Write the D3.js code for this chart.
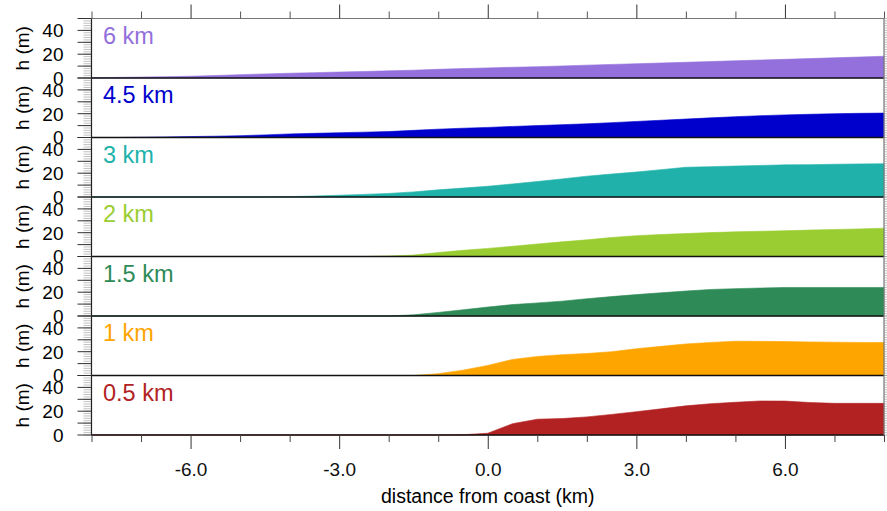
<!DOCTYPE html>
<html>
<head>
<meta charset="utf-8">
<script src="https://cdn.jsdelivr.net/npm/d3@7"></script>
<style>
  body { margin: 0; background: #fff; }
  text { font-family: "Liberation Sans", Arial, Helvetica, sans-serif; }
</style>
</head>
<body>
<div id="viz"></div>
<script>
// distance from coast (km), common grid for all runs
var distance = [-8, -7.5, -7, -6.5, -6, -5.5, -5, -4.5, -4, -3.5, -3, -2.5, -2, -1.5, -1, -0.5,
  0, 0.5, 1, 1.5, 2, 2.5, 3, 3.5, 4, 4.5, 5, 5.5, 6, 6.5, 7, 7.5, 8];

// boundary layer height h (m) for each run
var h6km = [0.3, 0.5, 0.8, 1.1, 1.5, 2.1, 2.8, 3.4, 4, 4.5, 5, 5.5, 6, 6.6, 7.3, 7.9,
  8.5, 9, 9.5, 10.1, 10.8, 11.4, 12, 12.6, 13.2, 13.8, 14.5, 15.1, 15.7, 16.3, 17, 17.6, 18.3];
var h45km = [0, 0, 0.2, 0.5, 0.8, 1.1, 1.5, 2.2, 3, 3.5, 4, 4.5, 5, 6, 7, 7.8,
  8.5, 9.3, 10, 10.8, 11.5, 12.5, 13.5, 14.5, 15.5, 16.5, 17.5, 18.3, 19, 19.5, 20, 20.3, 20.5];
var h3km = [0, 0, 0, 0, 0, 0, 0, 0, 0.3, 0.8, 1.5, 2.2, 3, 4.3, 6, 7.5,
  9, 11, 13, 15.2, 17.5, 19.3, 21, 23, 25, 25.5, 26, 26.5, 27, 27.2, 27.5, 27.8, 28];
var h2km = [0, 0, 0, 0, 0, 0, 0, 0, 0, 0, 0, 0, 0.5, 1.2, 3.3, 5.2,
  6.8, 8.6, 10.5, 12.3, 14, 16, 17.5, 18.5, 19.3, 20.1, 20.7, 21.2, 21.7, 22.2, 22.7, 23.2, 23.8];
var h15km = [0, 0, 0, 0, 0, 0, 0, 0, 0, 0, 0, 0, 0, 1, 3, 5.2,
  7.5, 9.6, 11, 12.5, 14.5, 16.3, 18, 19.5, 21, 22.3, 23, 23.5, 24, 24, 24, 24, 24];
var h1km = [0, 0, 0, 0, 0, 0, 0, 0, 0, 0, 0, 0, 0, 0, 1.5, 4.5,
  8.5, 13.5, 16, 17.5, 18.5, 20, 22.5, 24.5, 26.5, 27.8, 28.8, 28.7, 28.5, 28.2, 28, 27.8, 27.7];
var h05km = [0, 0, 0, 0, 0, 0, 0, 0, 0, 0, 0, 0, 0, 0, 0, 0.2,
  1.5, 9.5, 13.3, 13.8, 15.2, 17.3, 19.6, 22, 24.5, 26.3, 27.5, 28.6, 28.5, 27.3, 26.6, 26.6, 26.6];

var runLabels = ["6 km", "4.5 km", "3 km", "2 km", "1.5 km", "1 km", "0.5 km"];
var runColors = ["#9370DB", "#0000CD", "#20B2AA", "#9ACD32", "#2E8B57", "#FFA500", "#B22222"];
var runValues = [h6km, h45km, h3km, h2km, h15km, h1km, h05km];

var xTickLabels = ["-6.0", "-3.0", "0.0", "3.0", "6.0"];
var yTickLabels = ["0", "20", "40"];

// layout
var width = 887, height = 511;
var plotL = 91.5, plotR = 884, plotT = 18.5, plotB = 435;
var panelH = (plotB - plotT) / runLabels.length;

var svg = d3.select("#viz")
  .append("svg")
    .attr("width", width)
    .attr("height", height);

var x = d3.scaleLinear().domain([-8, 8]).range([plotL, plotR]);

runLabels.forEach(function(label, i) {
  var y0 = plotT + i * panelH;
  var y = d3.scaleLinear().domain([0, 50]).range([y0 + panelH, y0]);
  var g = svg.append("g");

  var area = d3.area()
    .x(function(d, j) { return x(distance[j]); })
    .y0(y(0))
    .y1(function(d) { return y(d); });

  g.append("path")
    .datum(runValues[i])
    .attr("d", area)
    .attr("fill", runColors[i])
    .attr("stroke", runColors[i])
    .attr("stroke-width", 0.6);

  // left axis: minor ticks
  g.selectAll(".minor")
    .data(d3.range(0, 51, 2))
    .enter().append("line")
      .attr("x1", plotL - 8).attr("x2", plotL)
      .attr("y1", function(d) { return y(d); })
      .attr("y2", function(d) { return y(d); })
      .attr("stroke", "#999")
      .attr("stroke-width", 0.6);

  // left axis: major ticks
  g.selectAll(".major")
    .data(d3.range(0, 51, 10))
    .enter().append("line")
      .attr("x1", plotL - 14).attr("x2", plotL)
      .attr("y1", function(d) { return y(d); })
      .attr("y2", function(d) { return y(d); })
      .attr("stroke", "#333")
      .attr("stroke-width", 1);

  // right axis ticks
  g.selectAll(".rminor")
    .data(d3.range(0, 51, 2))
    .enter().append("line")
      .attr("x1", plotR).attr("x2", plotR + 4)
      .attr("y1", function(d) { return y(d); })
      .attr("y2", function(d) { return y(d); })
      .attr("stroke", "#999")
      .attr("stroke-width", 0.6);

  g.selectAll(".ylab")
    .data(yTickLabels)
    .enter().append("text")
      .attr("x", plotL - 28)
      .attr("y", function(d) { return y(+d); })
      .attr("dy", "0.36em")
      .attr("text-anchor", "end")
      .style("font-size", "19px")
      .text(function(d) { return d; });

  g.append("text")
    .attr("transform", "translate(29," + (y0 + panelH / 2) + ") rotate(-90)")
    .attr("text-anchor", "middle")
    .style("font-size", "19px")
    .text("h (m)");

  g.append("text")
    .attr("x", plotL + 11.5)
    .attr("y", y0 + 25)
    .attr("fill", runColors[i])
    .style("font-size", "23.5px")
    .text(label);

  // panel bottom border
  g.append("line")
    .attr("x1", plotL).attr("x2", plotR)
    .attr("y1", y(0)).attr("y2", y(0))
    .attr("stroke", "#111")
    .attr("stroke-width", 1.4);
});

// frame: top, left and right edges
svg.append("line")
  .attr("x1", plotL).attr("x2", plotR).attr("y1", plotT).attr("y2", plotT)
  .attr("stroke", "#777").attr("stroke-width", 1.2);
svg.append("line")
  .attr("x1", plotL).attr("x2", plotL).attr("y1", plotT).attr("y2", plotB)
  .attr("stroke", "#222").attr("stroke-width", 1.2);
svg.append("line")
  .attr("x1", plotR).attr("x2", plotR).attr("y1", plotT).attr("y2", plotB)
  .attr("stroke", "#777").attr("stroke-width", 1.2);

// x axes, bottom and top
var majorX = [-6, -3, 0, 3, 6];
var minorX = d3.range(-8, 9, 1).filter(function(d) { return majorX.indexOf(d) < 0; });

svg.append("g")
  .attr("transform", "translate(0," + plotB + ")")
  .call(d3.axisBottom(x).tickValues(minorX).tickSize(7).tickFormat(""))
  .call(function(g) { g.select(".domain").remove(); g.selectAll("line").attr("stroke", "#444"); });
svg.append("g")
  .attr("transform", "translate(0," + plotB + ")")
  .call(d3.axisBottom(x).tickValues(majorX).tickSize(14)
    .tickFormat(function(d, i) { return xTickLabels[i]; }))
  .call(function(g) {
    g.select(".domain").remove();
    g.selectAll("line").attr("stroke", "#333");
    g.selectAll("text").attr("y", 28).style("font-size", "19px")
      .style("font-family", "Liberation Sans, Arial, sans-serif").attr("fill", "#111");
  });

svg.append("g")
  .attr("transform", "translate(0," + plotT + ")")
  .call(d3.axisTop(x).tickValues(minorX).tickSize(7).tickFormat(""))
  .call(function(g) { g.select(".domain").remove(); g.selectAll("line").attr("stroke", "#555"); });
svg.append("g")
  .attr("transform", "translate(0," + plotT + ")")
  .call(d3.axisTop(x).tickValues(majorX).tickSize(14).tickFormat(""))
  .call(function(g) { g.select(".domain").remove(); g.selectAll("line").attr("stroke", "#333"); });

svg.append("text")
  .attr("x", x(0))
  .attr("y", 503)
  .attr("text-anchor", "middle")
  .style("font-size", "19.5px")
  .text("distance from coast (km)");
</script>
</body>
</html>
